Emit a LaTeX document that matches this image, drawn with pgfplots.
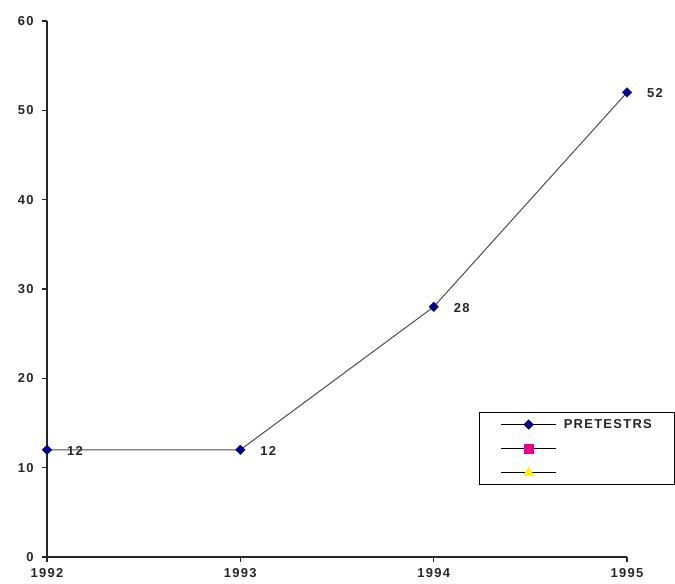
\documentclass[border=0pt]{standalone}
\usepackage{fontspec}
\setmainfont{Liberation Sans}
\newfontfamily\chartfont[LetterSpace=10]{Liberation Sans}
\usepackage{pgfplots}
\pgfplotsset{compat=1.18}
\definecolor{navy}{RGB}{0,0,140}
\newcommand{\lbl}{\fontsize{13}{15}\selectfont\chartfont\bfseries}
\begin{document}
\begin{tikzpicture}[x=1bp,y=1bp]
\useasboundingbox (-47,-27) rectangle (628,557);
\begin{axis}[
  at={(0,0)}, anchor=south west,
  scale only axis, width=580bp, height=536bp,
  xmin=1992, xmax=1995, ymin=0, ymax=60,
  axis lines*=left,
  axis line style={line width=1.1pt, black!85},
  xtick={1992,1993,1994,1995},
  ytick={0,10,20,30,40,50,60},
  tick align=outside,
  tick style={black!85, line width=1.1pt},
  major tick length=5bp,
  xticklabel style={/pgf/number format/1000 sep={}, yshift=-3bp},
  yticklabel style={xshift=-5bp},
  /pgf/number format/assume math mode=true,
  ticklabel style={font=\lbl, text=black!85},
  clip=false,
  legend style={at={(0.745,0.2705)}, anchor=north west, draw=black, line width=1.1pt,
     font=\lbl, inner xsep=21bp, inner ysep=0bp, column sep=7bp,
     nodes={inner xsep=0bp, inner ysep=0bp, minimum height=24bp, text width=90bp, text=black!85}},
  legend cell align=left,
  legend image code/.code={
    \draw[mark repeat=2, mark phase=2, black, line width=1.1pt] plot coordinates {(0bp,0bp) (27.5bp,0bp) (55bp,0bp)};
  },
]
\addplot[black!70, line width=1pt, mark=square*, mark size=3.4bp,
  mark options={fill=navy, draw=navy, line width=0.3pt, rotate=45},
  nodes near coords, point meta=explicit symbolic,
  nodes near coords style={anchor=west, xshift=18bp, yshift=-1bp, font=\lbl, text=black!85, inner sep=2bp, rotate=0}]
  coordinates {(1992,12) [12] (1993,12) [12] (1994,28) [28] (1995,52) [52]};
\addlegendentry{PRETESTRS}
\addlegendimage{mark=square*, mark size=4.5bp, mark options={fill=magenta, draw=magenta}}
\addlegendentry{}
\addlegendimage{mark=triangle*, mark size=5bp, mark options={fill=yellow, draw=yellow}}
\addlegendentry{}
\end{axis}
\end{tikzpicture}
\end{document}
